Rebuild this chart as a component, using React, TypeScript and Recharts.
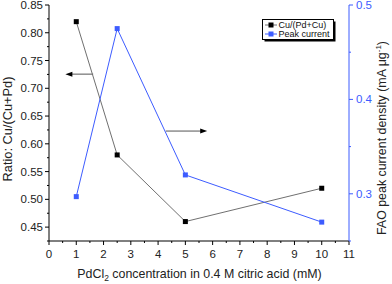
import React from 'react';
import { LineChart, Line, XAxis, YAxis, Legend, ReferenceLine, Label } from 'recharts';

const concentration = [1, 2.5, 5, 10];
const cuRatio = [0.82, 0.58, 0.46, 0.52];
const peakCurrent = [0.297, 0.475, 0.32, 0.27];

const xTicks = [0, 0.5, 1, 1.5, 2, 2.5, 3, 3.5, 4, 4.5, 5, 5.5, 6, 6.5, 7, 7.5, 8, 8.5, 9, 9.5, 10, 10.5, 11];
const leftTicks = [0.425, 0.45, 0.475, 0.5, 0.525, 0.55, 0.575, 0.6, 0.625, 0.65, 0.675, 0.7, 0.725, 0.75, 0.775, 0.8, 0.825, 0.85];
const rightTicks = [0.25, 0.3, 0.35, 0.4, 0.45, 0.5];
const rightLabels = ['0.3', '0.4', '0.5'];

const arrowLeft = [{ x: 1.62, y: 0.7255 }, { x: 0.6, y: 0.7255 }];
const arrowRight = [{ x: 4.28, y: 0.623 }, { x: 5.8, y: 0.623 }];

const data = concentration.map((c, i) => ({ c, cu: cuRatio[i], peak: peakCurrent[i] }));

const BLUE = '#3d5cff';
const FONT = '"Liberation Sans", Arial, sans-serif';

const isInt = (v: number) => Math.abs(v - Math.round(v)) < 1e-6;
const isMajorLeft = (v: number) => Math.abs(v * 20 - Math.round(v * 20)) < 1e-6;
const isMajorRight = (v: number) => Math.abs(v * 10 - Math.round(v * 10)) < 1e-6;

const BottomTick = (props: any) => {
  const { x, y, payload } = props;
  const major = isInt(payload.value);
  return (
    <g>
      <line x1={x} x2={x} y1={y} y2={y + (major ? 4 : 2)} stroke="#000" strokeWidth={1} />
      {major && (
        <text x={x} y={y + 17} textAnchor="middle" fontSize={11.5} fontFamily={FONT} fill="#222">
          {String(payload.value)}
        </text>
      )}
    </g>
  );
};

const TopTick = (props: any) => {
  const { x, y, payload } = props;
  const major = isInt(payload.value);
  return <line x1={x} x2={x} y1={y} y2={y + (major ? 4 : 2)} stroke="#000" strokeWidth={1} />;
};

const LeftTick = (props: any) => {
  const { x, y, payload } = props;
  const major = isMajorLeft(payload.value);
  return (
    <g>
      <line x1={x - (major ? 4 : 2)} x2={x} y1={y} y2={y} stroke="#000" strokeWidth={1} />
      {major && (
        <text x={x - 6} y={y + 4} textAnchor="end" fontSize={11.5} fontFamily={FONT} fill="#222">
          {payload.value.toFixed(2)}
        </text>
      )}
    </g>
  );
};

const RightTick = (props: any) => {
  const { x, y, payload } = props;
  const major = isMajorRight(payload.value);
  const label = rightLabels.find((l) => Math.abs(parseFloat(l) - payload.value) < 1e-6);
  return (
    <g>
      <line x1={x} x2={x + (major ? 4 : 2)} y1={y} y2={y} stroke={BLUE} strokeWidth={1} />
      {label && (
        <text x={x + 7} y={y + 4} textAnchor="start" fontSize={11.5} fontFamily={FONT} fill={BLUE}>
          {label}
        </text>
      )}
    </g>
  );
};

const makeDot = (color: string) => (props: any) => {
  const { cx, cy, index } = props;
  return <rect key={`d-${color}-${index}`} x={cx - 2.5} y={cy - 2.5} width={5} height={5} fill={color} />;
};

const arrowShape = (props: any) => {
  const { x1, y1, x2, y2 } = props;
  const dir = x2 > x1 ? 1 : -1;
  return (
    <g>
      <line x1={x1} y1={y1} x2={x2 - dir * 4} y2={y2} stroke="#555" strokeWidth={1} />
      <polygon points={`${x2},${y2} ${x2 - dir * 7},${y2 - 2.5} ${x2 - dir * 7},${y2 + 2.5}`} fill="#000" />
    </g>
  );
};

const legendContent = (props: any) => {
  const payload = props.payload || [];
  return (
    <svg width={76} height={24} style={{ display: 'block' }}>
      <rect x={2.5} y={2.5} width={71} height={20} fill="#000" />
      <rect x={0.5} y={0.5} width={71} height={20} fill="#fff" stroke="#000" strokeWidth={1} />
      {payload.map((p: any, i: number) => {
        const cy = 6 + i * 9;
        const col = i === 0 ? '#000' : BLUE;
        return (
          <g key={i}>
            <line x1={3} x2={15} y1={cy} y2={cy} stroke={p.color} strokeWidth={1} />
            <rect x={6.5} y={cy - 2.5} width={5} height={5} fill={col} />
            <text x={16.5} y={cy + 3.2} fontSize={9} fontFamily={FONT} fill="#111">
              {p.value}
            </text>
          </g>
        );
      })}
    </svg>
  );
};

export default function App() {
  return (
    <div style={{ position: 'absolute', left: 0, top: 0 }}>
      <LineChart width={392} height={284} data={data} margin={{ top: 5, right: 0, left: 0, bottom: 0 }}>
        <XAxis
          xAxisId="bottom"
          dataKey="c"
          type="number"
          domain={[0, 11]}
          ticks={xTicks}
          interval={0}
          height={43}
          tickSize={0}
          tickMargin={0}
          tickLine={false}
          tick={<BottomTick />}
          axisLine={{ stroke: '#000' }}
          allowDataOverflow
        >
          <Label
            content={() => (
              <text x={199.5} y={278} textAnchor="middle" fontSize={12.4} fontFamily={FONT} fill="#222">
                PdCl<tspan dy={3} fontSize={8.5}>2</tspan>
                <tspan dy={-3}> concentration in 0.4 M citric acid (mM)</tspan>
              </text>
            )}
          />
        </XAxis>
        <XAxis
          xAxisId="top"
          orientation="top"
          dataKey="c"
          type="number"
          domain={[0, 11]}
          ticks={xTicks}
          interval={0}
          height={0}
          tickSize={0}
          tickMargin={0}
          tickLine={false}
          tick={<TopTick />}
          axisLine={{ stroke: '#000' }}
          allowDataOverflow
        />
        <YAxis
          yAxisId="left"
          type="number"
          domain={[0.425, 0.85]}
          ticks={leftTicks}
          interval={0}
          width={49}
          tickSize={0}
          tickMargin={0}
          tickLine={false}
          tick={<LeftTick />}
          axisLine={{ stroke: '#000' }}
          allowDataOverflow
        >
          <Label
            content={() => (
              <text
                x={12}
                y={129}
                transform="rotate(-90 12 129)"
                textAnchor="middle"
                fontSize={12.8}
                fontFamily={FONT}
                fill="#222"
              >
                Ratio: Cu/(Cu+Pd)
              </text>
            )}
          />
        </YAxis>
        <YAxis
          yAxisId="right"
          orientation="right"
          type="number"
          domain={[0.25, 0.5]}
          ticks={rightTicks}
          interval={0}
          width={43}
          tickSize={0}
          tickMargin={0}
          tickLine={false}
          tick={<RightTick />}
          axisLine={{ stroke: BLUE }}
          allowDataOverflow
        >
          <Label
            content={() => (
              <text
                x={386}
                y={138}
                transform="rotate(-90 386 138)"
                textAnchor="middle"
                fontSize={12.4}
                fontFamily={FONT}
                fill="#222"
              >
                FAO peak current density (mA μg<tspan dy={-5} fontSize={8}>-1</tspan>
                <tspan dy={5}>)</tspan>
              </text>
            )}
          />
        </YAxis>
        <ReferenceLine xAxisId="bottom" yAxisId="left" segment={arrowLeft} shape={arrowShape} ifOverflow="visible" />
        <ReferenceLine xAxisId="bottom" yAxisId="left" segment={arrowRight} shape={arrowShape} ifOverflow="visible" />
        <Line
          xAxisId="bottom"
          yAxisId="left"
          name="Cu/(Pd+Cu)"
          dataKey="cu"
          stroke="#707070"
          strokeWidth={1}
          dot={makeDot('#000')}
          activeDot={false}
          isAnimationActive={false}
        />
        <Line
          xAxisId="bottom"
          yAxisId="right"
          name="Peak current"
          dataKey="peak"
          stroke={BLUE}
          strokeWidth={1}
          dot={makeDot(BLUE)}
          activeDot={false}
          isAnimationActive={false}
        />
        <Legend
          layout="horizontal"
          verticalAlign="middle"
          align="center"
          content={legendContent}
          wrapperStyle={{ position: 'absolute', left: 262, top: 19, width: 76, height: 24 }}
        />
      </LineChart>
    </div>
  );
}
